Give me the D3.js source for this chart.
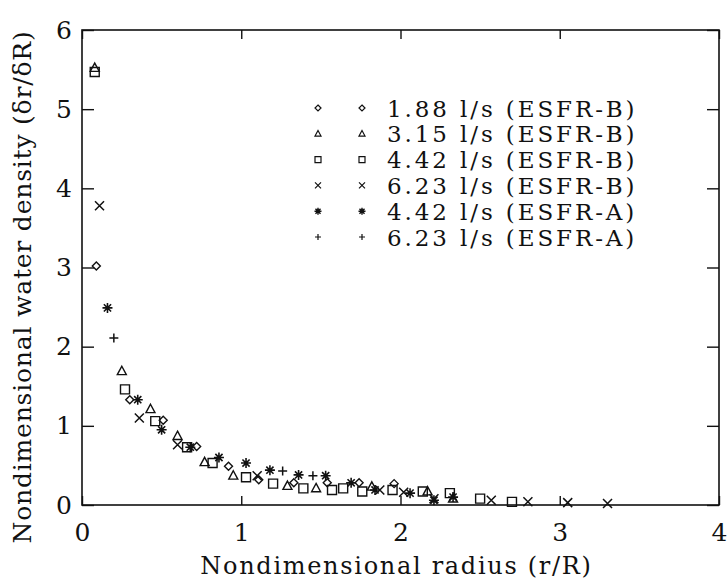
<!DOCTYPE html>
<html><head><meta charset="utf-8">
<script src="https://cdn.jsdelivr.net/npm/d3@7"></script>
<style>body{margin:0;background:#fff}svg{display:block}text{font-family:"DejaVu Serif",serif;fill:#111}</style>
</head><body><svg id="c" width="727" height="580"></svg>
<script>
// ---- data ----
const diamondX = [0.09,0.30,0.51,0.72,0.92,1.11,1.33,1.54,1.74,1.96];
const diamondY = [3.02,1.33,1.07,0.74,0.49,0.32,0.28,0.28,0.28,0.27];
const triangleX = [0.08,0.25,0.43,0.60,0.77,0.95,1.29,1.47,1.82,2.17,2.33];
const triangleY = [5.52,1.69,1.21,0.87,0.54,0.37,0.24,0.21,0.23,0.17,0.08];
const squareX = [0.08,0.27,0.46,0.66,0.82,1.03,1.20,1.39,1.57,1.64,1.76,1.95,2.14,2.31,2.50,2.70];
const squareY = [5.47,1.46,1.06,0.73,0.53,0.35,0.27,0.21,0.19,0.21,0.17,0.19,0.17,0.15,0.08,0.04];
const crossX = [0.11,0.36,0.60,1.10,1.87,2.02,2.21,2.57,2.80,3.05,3.30];
const crossY = [3.78,1.10,0.76,0.37,0.19,0.16,0.08,0.06,0.04,0.03,0.02];
const starX = [0.16,0.35,0.50,0.68,0.86,1.03,1.18,1.36,1.53,1.69,1.84,2.06,2.21,2.33];
const starY = [2.49,1.33,0.95,0.73,0.60,0.53,0.44,0.38,0.37,0.28,0.19,0.15,0.06,0.10];
const plusX = [0.20,1.26,1.45];
const plusY = [2.11,0.43,0.37];
const seriesLabels = ["1.88 l/s (ESFR-B)","3.15 l/s (ESFR-B)","4.42 l/s (ESFR-B)","6.23 l/s (ESFR-B)","4.42 l/s (ESFR-A)","6.23 l/s (ESFR-A)"];
const xTicks = [0,1,2,3,4];
const yTicks = [0,1,2,3,4,5,6];
const xTitle = "Nondimensional radius (r/R)";
const yTitle = "Nondimensional water density (\u03B4r/\u03B4R)";

const series = [
  {shape:"diamond", xs:diamondX, ys:diamondY},
  {shape:"triangle", xs:triangleX, ys:triangleY},
  {shape:"square", xs:squareX, ys:squareY},
  {shape:"cross", xs:crossX, ys:crossY},
  {shape:"star", xs:starX, ys:starY},
  {shape:"plus", xs:plusX, ys:plusY}
].map((s,i)=>({...s,label:seriesLabels[i]}));

// ---- layout ----
const svg = d3.select("#c");
const L=82,R=719,T=30,B=505;
const x = d3.scaleLinear().domain([0,4]).range([L,R]);
const y = d3.scaleLinear().domain([0,6]).range([B,T]);

function markerPath(shape, s){
  const h=s/2;
  switch(shape){
    case "diamond": return `M0,${-h}L${h},0L0,${h}L${-h},0Z`;
    case "triangle": return `M0,${-h*1.1}L${h},${h*0.75}L${-h},${h*0.75}Z`;
    case "square": return `M${-h},${-h}H${h}V${h}H${-h}Z`;
    case "cross": return `M${-h},${-h}L${h},${h}M${h},${-h}L${-h},${h}`;
    case "plus": return `M${-h},0H${h}M0,${-h}V${h}`;
    case "star": {
      const d=h*0.72;
      return `M${-h},0H${h}M0,${-h}V${h}M${-d},${-d}L${d},${d}M${d},${-d}L${-d},${d}`;
    }
  }
}
const sizes = {diamond:8,triangle:9,square:9,cross:9,plus:9,star:10};
const widths = {diamond:1.4,triangle:1.4,square:1.4,cross:1.5,plus:1.5,star:1.6};

// frame
svg.append("rect").attr("x",L).attr("y",T).attr("width",R-L).attr("height",B-T)
  .attr("fill","none").attr("stroke","#111").attr("stroke-width",1.6);

// axes (ticks inward)
const gx = svg.append("g").attr("transform",`translate(0,${B})`)
  .call(d3.axisBottom(x).tickValues(xTicks).tickSize(-9).tickPadding(18).tickFormat(d3.format("d")));
const gy = svg.append("g").attr("transform",`translate(${L},0)`)
  .call(d3.axisLeft(y).tickValues(yTicks).tickSize(-12).tickPadding(10).tickFormat(d3.format("d")));
const gt = svg.append("g").attr("transform",`translate(0,${T})`)
  .call(d3.axisTop(x).tickValues(xTicks).tickSize(-9).tickFormat(""));
const gr = svg.append("g").attr("transform",`translate(${R},0)`)
  .call(d3.axisRight(y).tickValues(yTicks).tickSize(-12).tickFormat(""));
[gx,gy,gt,gr].forEach(g=>{
  g.select(".domain").remove();
  g.selectAll("line").attr("stroke","#111").attr("stroke-width",1.4);
  g.selectAll("text").attr("font-family","DejaVu Serif").attr("font-size",25).attr("fill","#111");
});

// titles
svg.append("text").attr("x",(L+R)/2-4).attr("y",574).attr("text-anchor","middle")
  .attr("font-size",24).attr("letter-spacing",1.7).text(xTitle);
svg.append("text").attr("transform","translate(31,287) rotate(-90)").attr("text-anchor","middle")
  .attr("font-size",25).attr("letter-spacing",0.8).text(yTitle);

// points
series.forEach(s=>{
  svg.append("g").selectAll("path").data(s.xs.map((v,i)=>[v,s.ys[i]])).join("path")
    .attr("transform",d=>`translate(${x(d[0])},${y(d[1])})`)
    .attr("d",markerPath(s.shape,sizes[s.shape]))
    .attr("fill","none").attr("stroke","#111").attr("stroke-width",widths[s.shape]);
});

// legend
const lg = svg.append("g");
series.forEach((s,i)=>{
  const cy = 108 + i*25.8;
  [318,362].forEach(cx=>{
    lg.append("path").attr("transform",`translate(${cx},${cy})`)
      .attr("d",markerPath(s.shape,s.shape==="star"?7:6)).attr("fill","none").attr("stroke","#111")
      .attr("stroke-width",s.shape==="star"?1.4:1.2);
  });
  lg.append("text").attr("x",387).attr("y",cy+8.5).attr("font-size",23)
    .attr("letter-spacing",2.9).text(s.label);
});
</script></body></html>
